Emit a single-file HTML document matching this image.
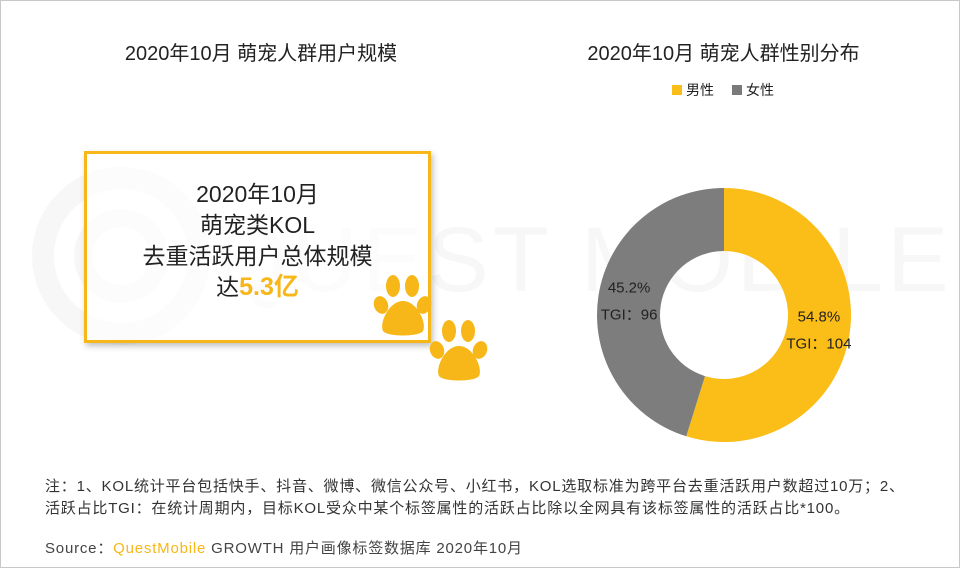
<!DOCTYPE html>
<html><head><meta charset="utf-8"><style>
body{margin:0;}
#root{position:relative;width:958px;height:566px;border:1px solid #c8c8c8;background:#fff;overflow:hidden;font-family:"Liberation Sans","Noto Sans CJK SC",sans-serif;color:#222;}
.t{position:absolute;white-space:nowrap;}
</style></head><body>
<div id="root">
<svg class="t" style="left:0;top:0" width="958" height="566">
<circle cx="120" cy="255" r="78" fill="none" stroke="#f7f7f7" stroke-width="22"/>
<circle cx="120" cy="255" r="38" fill="none" stroke="#f7f7f7" stroke-width="18"/>
<text x="215" y="290" font-size="92" fill="#f7f7f7" font-family="Liberation Sans" letter-spacing="4">QUEST MOBILE</text>
</svg>
<div class="t" style="left:0;width:520px;top:36px;text-align:center;font-size:20px;">2020年10月 萌宠人群用户规模</div>
<div class="t" style="left:520px;width:405px;top:36px;text-align:center;font-size:20px;">2020年10月 萌宠人群性别分布</div>
<div class="t" style="left:671px;top:79px;font-size:14px;"><span style="display:inline-block;width:10px;height:10px;background:#fbbd17;margin-right:4px"></span>男性</div>
<div class="t" style="left:731px;top:79px;font-size:14px;"><span style="display:inline-block;width:10px;height:10px;background:#7a7a7a;margin-right:4px"></span>女性</div>
<div class="t" style="left:83px;top:150px;width:341px;height:186px;border:3px solid #f7b718;box-shadow:2px 3px 6px rgba(0,0,0,0.25);background:rgba(255,255,255,0.6);"></div>
<div class="t" style="left:86px;width:341px;top:178px;text-align:center;font-size:23px;line-height:31px;">2020年10月<br>萌宠类KOL<br>去重活跃用户总体规模<br>达<b style="color:#f7b718;font-size:25px">5.3亿</b></div>
<svg class="t" style="left:360px;top:260px" width="140" height="130">
<g fill="#f7b718">
<ellipse cx="32" cy="25" rx="7" ry="11"/><ellipse cx="51" cy="25" rx="7" ry="11"/><ellipse cx="20" cy="44" rx="7" ry="9" transform="rotate(-20 20 44)"/><ellipse cx="63" cy="44" rx="7" ry="9" transform="rotate(20 63 44)"/>
<path d="M42 40 C28 40 18 62 22 70 C26 76 58 76 62 70 C66 62 56 40 42 40Z"/>
<ellipse cx="88" cy="70" rx="7" ry="11"/><ellipse cx="107" cy="70" rx="7" ry="11"/><ellipse cx="76" cy="89" rx="7" ry="9" transform="rotate(-20 76 89)"/><ellipse cx="119" cy="89" rx="7" ry="9" transform="rotate(20 119 89)"/>
<path d="M98 85 C84 85 74 107 78 115 C82 121 114 121 118 115 C122 107 112 85 98 85Z"/>
</g></svg>
<svg id="donut" class="t" style="left:0;top:0" width="958" height="566"></svg>
<div class="t" style="left:44px;top:475px;font-size:15px;letter-spacing:0.8px;line-height:22px;color:#333;">注：1、KOL统计平台包括快手、抖音、微博、微信公众号、小红书，KOL选取标准为跨平台去重活跃用户数超过10万；2、<br>活跃占比TGI：在统计周期内，目标KOL受众中某个标签属性的活跃占比除以全网具有该标签属性的活跃占比*100。</div>
<div class="t" style="left:44px;top:536px;font-size:15px;letter-spacing:0.8px;color:#444;">Source：<span style="color:#f7b718">QuestMobile</span> GROWTH 用户画像标签数据库 2020年10月</div>
</div>
<script>
const categories=["男性","女性"];
const shares=[54.8,45.2];
const tgi=[104,96];
const colors=["#fbbd17","#7d7d7d"];
const svg=document.getElementById('donut');const NS='http://www.w3.org/2000/svg';
const cx=723,cy=314,R=127,r=64;
const total=shares.reduce((a,b)=>a+b,0);
let a0=0;
const pt=(a,rad)=>[cx+rad*Math.sin(a),cy-rad*Math.cos(a)];
shares.forEach((v,i)=>{
 const a1=a0+v/total*2*Math.PI;const lg=(a1-a0)>Math.PI?1:0;
 const [x1,y1]=pt(a0,R),[x2,y2]=pt(a1,R),[x3,y3]=pt(a1,r),[x4,y4]=pt(a0,r);
 const p=document.createElementNS(NS,'path');
 p.setAttribute('d',`M${x1} ${y1}A${R} ${R} 0 ${lg} 1 ${x2} ${y2}L${x3} ${y3}A${r} ${r} 0 ${lg} 0 ${x4} ${y4}Z`);
 p.setAttribute('fill',colors[i]);
 
 
 svg.appendChild(p);
 const m=(a0+a1)/2;const [lx,ly]=pt(m,96);
 const t1=document.createElementNS(NS,'text');t1.setAttribute('x',lx);t1.setAttribute('y',ly-8);t1.setAttribute('text-anchor','middle');t1.setAttribute('font-size','15');t1.setAttribute('fill','#222');t1.textContent=v.toFixed(1)+'%';
 
 
 svg.appendChild(t1);
 const t2=document.createElementNS(NS,'text');t2.setAttribute('x',lx);t2.setAttribute('y',ly+19);t2.setAttribute('text-anchor','middle');t2.setAttribute('font-size','15');t2.setAttribute('fill','#222');t2.textContent='TGI：'+tgi[i];
 
 
 svg.appendChild(t2);
 a0=a1;
});
</script>
</body></html>
